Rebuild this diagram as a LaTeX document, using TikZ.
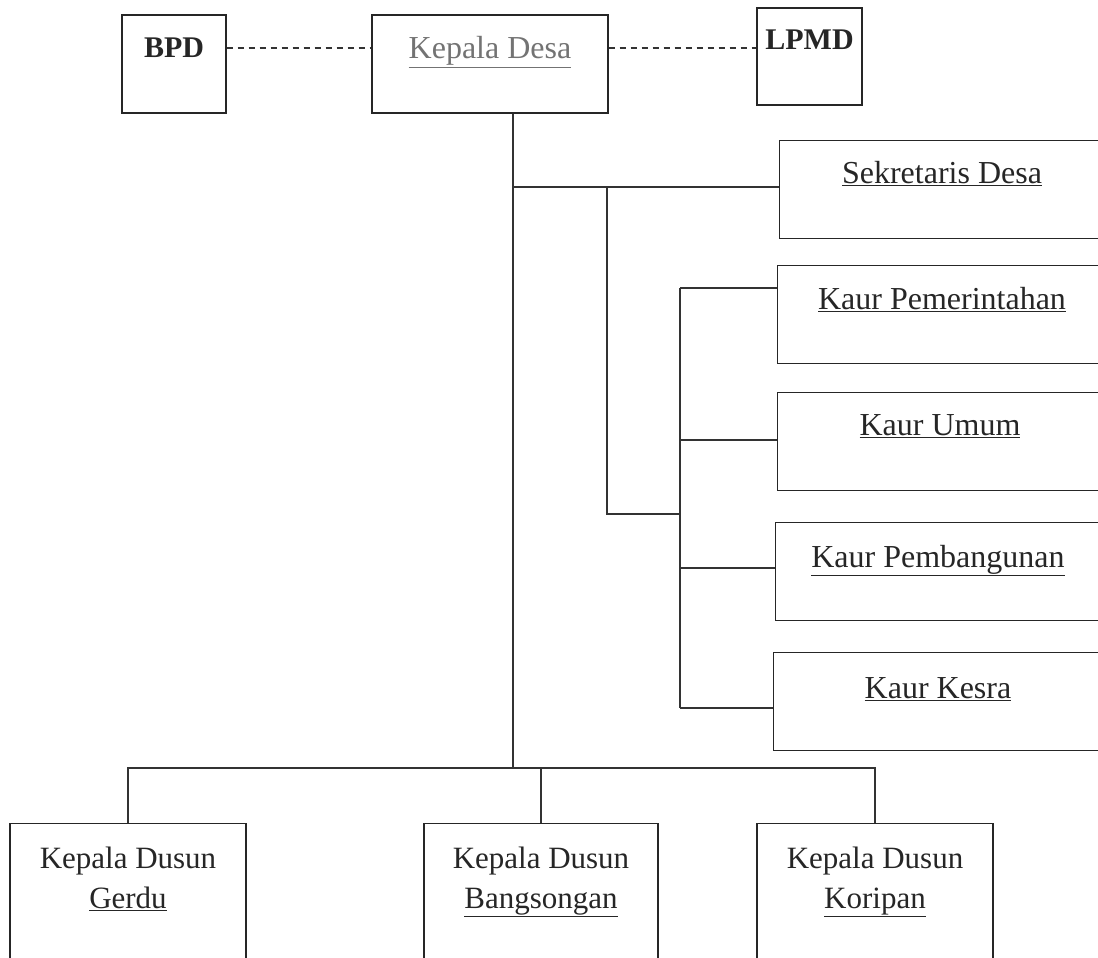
\documentclass[tikz,border=0pt]{standalone}
\usepackage{fontspec}
\setmainfont{Liberation Serif}
\usetikzlibrary{calc}
\begin{document}
\begin{tikzpicture}[x=1pt,y=-1pt,
    box/.style={draw=black!85, line width=1.3pt, minimum width=#1, inner sep=0pt},
    box/.default=330pt,
    txt/.style={font=\fontsize{32}{38}\selectfont, text=black!85, align=center, anchor=base},
    dusun/.style={txt, font=\fontsize{31}{40}\selectfont},
    line/.style={draw=black!80, line width=1.3pt},
    link/.style={draw=black!80, line width=1.2pt, dash pattern=on 6pt off 5pt}]
    \clip (0,0) rectangle (1098,958);

    % Kotak atas
    \node[box=104pt, minimum height=98pt] (bpd) at (174,64) {};
    \node[box=236pt, minimum height=98pt] (kd) at (490,64) {};
    \node[box=105pt, minimum height=97pt] (lpmd) at (809.5,56.5) {};
    \node[txt, font=\fontsize{30}{35}\selectfont\bfseries] (bpdtxt) at (bpd.north |- 0,58) {BPD};
    \node[txt, text=black!55] (kdtxt) at (kd.north |- 0,59) {\underline{Kepala Desa}};
    \node[txt, font=\fontsize{30}{35}\selectfont\bfseries] (lpmdtxt) at (lpmd.north |- 0,50) {LPMD};

    % Garis koordinasi
    \draw[link] (bpd.east |- 0,48) -- (kd.west |- 0,48);
    \draw[link] (kd.east |- 0,48) -- (lpmd.west |- 0,48);

    % Perangkat desa
    \node[box, minimum height=98pt, anchor=north west] (sekdes) at (779,140) {};
    \node[box, minimum height=98pt, anchor=north west] (kpem) at (777,265) {};
    \node[box, minimum height=98pt, anchor=north west] (kumum) at (777,392) {};
    \node[box, minimum height=98pt, anchor=north west] (kpemb) at (775,522) {};
    \node[box, minimum height=98pt, anchor=north west] (kkesra) at (773,652) {};
    \node[txt] (sekdestxt) at (942,183) {\underline{Sekretaris Desa}};
    \node[txt] (kpemtxt) at (942,309) {\underline{Kaur Pemerintahan}};
    \node[txt] (kumumtxt) at (940,435) {\underline{Kaur Umum}};
    \node[txt] (kpembtxt) at (938,567) {\underline{Kaur Pembangunan}};
    \node[txt] (kkesratxt) at (938,698) {\underline{Kaur Kesra}};

    % Kepala dusun
    \node[box=236pt, minimum height=150pt, anchor=north] (gerdu) at (128,823) {};
    \node[box=234pt, minimum height=150pt, anchor=north] (bangs) at (541,823) {};
    \node[box=236pt, minimum height=150pt, anchor=north] (korip) at (875,823) {};
    \node[dusun] (gerdutxt) at (gerdu.north |- 0,908) {Kepala Dusun\\\underline{Gerdu}};
    \node[dusun] (bangstxt) at (bangs.north |- 0,908) {Kepala Dusun\\\underline{Bangsongan}};
    \node[dusun] (koriptxt) at (korip.north |- 0,908) {Kepala Dusun\\\underline{Koripan}};

    % Titik cabang
    \coordinate (j1) at (513,187);
    \coordinate (j2) at (607,187);
    \coordinate (j3) at (607,514);
    \coordinate (j4) at (680,514);
    \coordinate (bus) at (513,768);

    % Garis komando
    \draw[line] (kd.south -| j1) -- (bus);
    \draw[line] (j1) -- (sekdes.west |- j1);
    \draw[line] (j2) -- (j3) -- (j4);
    \draw[line] (680,288) -- (680,708);
    \draw[line] (680,288) -- (kpem.west |- 0,288);
    \draw[line] (680,440) -- (kumum.west |- 0,440);
    \draw[line] (680,568) -- (kpemb.west |- 0,568);
    \draw[line] (680,708) -- (kkesra.west |- 0,708);
    \draw[line] (gerdu.north) -- (gerdu.north |- bus) -- (korip.north |- bus) -- (korip.north);
    \draw[line] (bangs.north |- bus) -- (bangs.north);
\end{tikzpicture}
\end{document}
